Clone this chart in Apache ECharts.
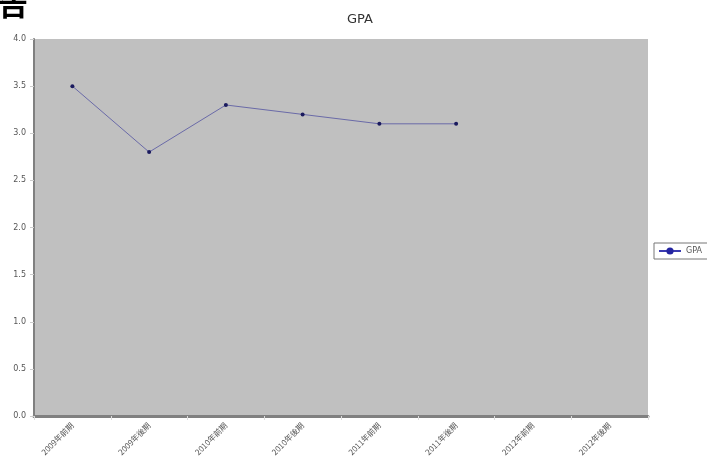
<!DOCTYPE html>
<html><head><meta charset="utf-8">
<style>html,body{margin:0;padding:0;background:#fff;}#c{width:707px;height:465px;}</style>
<script src="https://cdn.jsdelivr.net/npm/echarts@6/dist/echarts.min.js"></script>
</head><body><div id="c"></div>
<script>
const categories = ['2009年前期','2009年後期','2010年前期','2010年後期','2011年前期','2011年後期','2012年前期','2012年後期'];
const gpaValues = [3.5, 2.8, 3.3, 3.2, 3.1, 3.1, null, null];
const yTicks = [0, 0.5, 1.0, 1.5, 2.0, 2.5, 3.0, 3.5, 4.0];

const chart = echarts.init(document.getElementById('c'));
chart.setOption({
  animation: false,
  backgroundColor: '#fff',
  title: { text: 'GPA', left: 355, top: 8, textAlign: 'center',
    textStyle: { fontSize: 13, fontWeight: 'normal', color: '#333', fontFamily: 'DejaVu Sans' } },
  graphic: [
    { type: 'text', left: -2, top: -11, style: { text: '告', fontSize: 30, fontWeight: 'bold', fill: '#000', fontFamily: 'Noto Sans CJK JP' } }
  ],
  legend: {
    left: 654, top: 243, orient: 'vertical', borderColor: '#777', borderWidth: 1, padding: [4, 20, 4, 4],
    itemWidth: 22, itemHeight: 9, itemGap: 0,
    textStyle: { fontSize: 8, color: '#555', fontFamily: 'DejaVu Sans' },
    data: [{ name: 'GPA', itemStyle: { color: '#2424a0' }, lineStyle: { color: '#3a3ab0', width: 2 } }]
  },
  grid: { left: 34, right: 59, top: 39, bottom: 49, show: true, backgroundColor: '#c0c0c0', borderWidth: 0, containLabel: false },
  xAxis: {
    type: 'category', data: categories, boundaryGap: true,
    axisLine: { lineStyle: { color: '#808080', width: 3 } },
    axisTick: { show: true, alignWithLabel: false, length: 4, lineStyle: { color: '#ddd' } },
    axisLabel: { rotate: 45, fontSize: 8, color: '#555', margin: 8, fontFamily: 'Noto Sans CJK JP' },
    splitLine: { show: false }
  },
  yAxis: {
    type: 'value', min: 0, max: 4, interval: 0.5,
    axisLine: { show: true, lineStyle: { color: '#808080', width: 2 } },
    axisTick: { show: true, length: 4, lineStyle: { color: '#ccc' } },
    axisLabel: { fontSize: 8, color: '#555', margin: 8, fontFamily: 'DejaVu Sans',
      formatter: v => yTicks.includes(v) ? v.toFixed(1) : '' },
    splitLine: { show: false }
  },
  series: [{
    name: 'GPA', type: 'line', data: gpaValues, connectNulls: false,
    symbol: 'circle', symbolSize: 4,
    lineStyle: { color: '#6a6aa8', width: 1 },
    itemStyle: { color: '#1a1a5e', borderWidth: 0 }
  }]
});
</script></body></html>
